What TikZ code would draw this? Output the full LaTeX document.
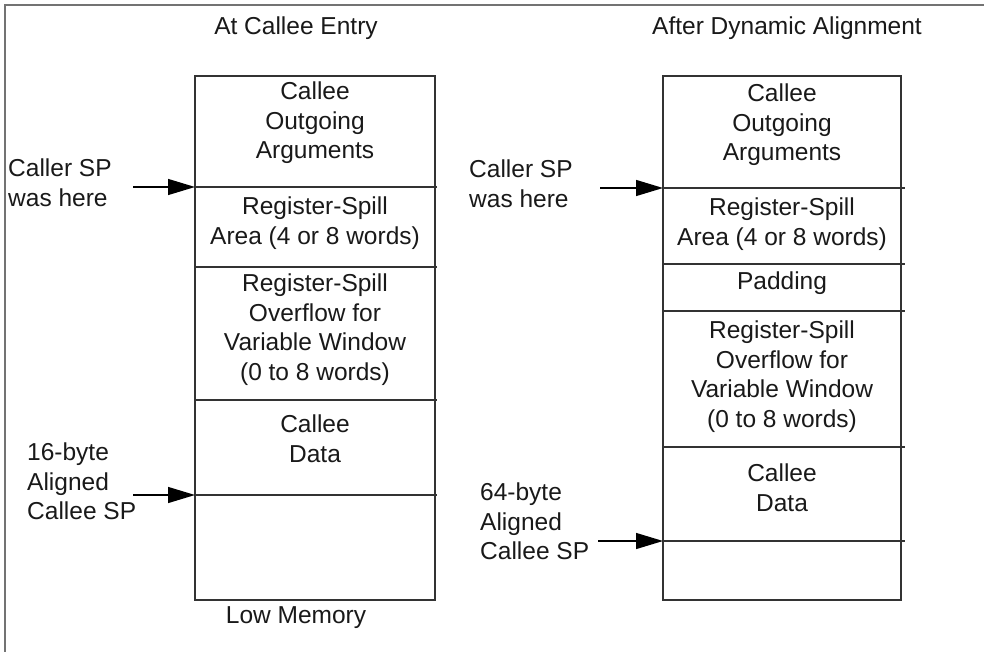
\documentclass[tikz,border=0pt]{standalone}
\usepackage{fontspec}
\setmainfont{Liberation Sans}
\usetikzlibrary{arrows.meta}
\begin{document}
\begin{tikzpicture}[x=1pt,y=-1pt,
  lbl/.style={font=\fontsize{24.5}{29.5}\selectfont, align=center, inner sep=0pt, anchor=north, text=black!90},
  llbl/.style={lbl, align=left, anchor=north west},
  boxline/.style={draw=black!80, line width=1.3pt},
  ptr/.style={draw=black, line width=1.3pt, -{Triangle[length=27pt,width=16pt]}},
  frameline/.style={draw=black!55, line width=2pt}]
\useasboundingbox (0,0) rectangle (987,652);
% frame
\draw[frameline] (5,652) -- (5,5) -- (984,5);

% ---------- left stack ----------
\node[lbl] (t1) at (296,17) {At Callee Entry};
\draw[boxline] (195,76) rectangle (435,600);
\coordinate (l1) at (195,187); \coordinate (l1e) at (437,187);
\coordinate (l2) at (195,267); \coordinate (l2e) at (437,267);
\coordinate (l3) at (195,400); \coordinate (l3e) at (437,400);
\coordinate (l4) at (195,495); \coordinate (l4e) at (437,495);
\draw[boxline] (l1) -- (l1e);
\draw[boxline] (l2) -- (l2e);
\draw[boxline] (l3) -- (l3e);
\draw[boxline] (l4) -- (l4e);
\node[lbl] (la) at (315,82) {Callee\\Outgoing\\Arguments};
\node[lbl] (lb) at (315,197) {Register-Spill\\Area (4 or 8 words)};
\node[lbl] (lc) at (315,274) {Register-Spill\\Overflow for\\Variable Window\\(0 to 8 words)};
\node[lbl] (ld) at (315,415) {Callee\\Data};
\node[lbl] (lm) at (296,606) {Low Memory};
\node[llbl] (lcs) at (8,159) {Caller SP\\was here};
\node[llbl] (l16) at (27,443) {16-byte\\Aligned\\Callee SP};
\coordinate (lcsa) at (133,187);
\coordinate (l16a) at (133,495);
\draw[ptr] (lcsa) -- (l1);
\draw[ptr] (l16a) -- (l4);

% ---------- right stack ----------
\node[lbl] (t2) at (787,17) {After Dynamic Alignment};
\draw[boxline] (663,76) rectangle (901,600);
\coordinate (r1) at (663,188); \coordinate (r1e) at (905,188);
\coordinate (r2) at (663,264); \coordinate (r2e) at (905,264);
\coordinate (r3) at (663,311); \coordinate (r3e) at (905,311);
\coordinate (r4) at (663,447); \coordinate (r4e) at (905,447);
\coordinate (r5) at (663,541); \coordinate (r5e) at (905,541);
\draw[boxline] (r1) -- (r1e);
\draw[boxline] (r2) -- (r2e);
\draw[boxline] (r3) -- (r3e);
\draw[boxline] (r4) -- (r4e);
\draw[boxline] (r5) -- (r5e);
\node[lbl] (ra) at (782,84) {Callee\\Outgoing\\Arguments};
\node[lbl] (rb) at (782,198) {Register-Spill\\Area (4 or 8 words)};
\node[lbl] (rp) at (782,272) {Padding};
\node[lbl] (rc) at (782,321) {Register-Spill\\Overflow for\\Variable Window\\(0 to 8 words)};
\node[lbl] (rd) at (782,464) {Callee\\Data};
\node[llbl] (rcs) at (469,160) {Caller SP\\was here};
\node[llbl] (r64) at (480,483) {64-byte\\Aligned\\Callee SP};
\coordinate (rcsa) at (600,188);
\coordinate (r64a) at (598,541);
\draw[ptr] (rcsa) -- (r1);
\draw[ptr] (r64a) -- (r5);
\end{tikzpicture}
\end{document}
